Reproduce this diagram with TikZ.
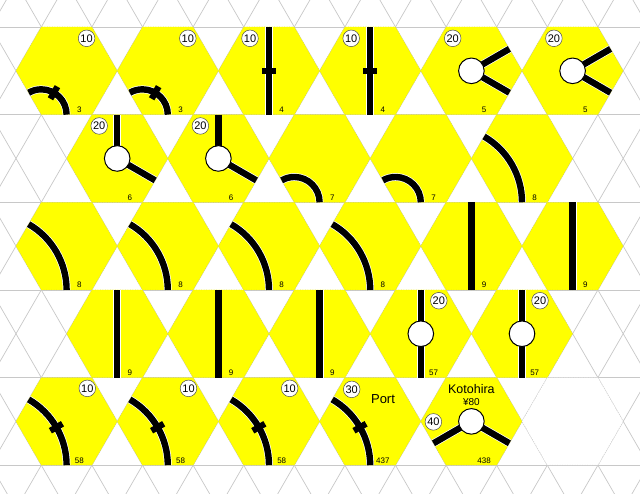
\documentclass[tikz,border=0pt]{standalone}
\usepackage{fontspec}
\setmainfont{Liberation Sans}
\definecolor{tileyellow}{RGB}{255,255,0}
\definecolor{hexedge}{RGB}{215,215,60}
\definecolor{gridgrey}{RGB}{200,200,200}
\tikzset{
 gridl/.style={draw=gridgrey, line width=0.7pt},
 hexfill/.style={fill=tileyellow, draw=hexedge, dotted, line width=0.5pt},
 emptyhex/.style={fill=white, draw=black!22, dotted, line width=0.5pt},
 track/.style={draw=black, line width=6.4pt, preaction={draw=white, line width=7.8pt}},
 barline/.style={draw=black, line width=6.2pt},
 citycirc/.style={fill=white, draw=black, line width=1pt},
 revc/.style={circle, fill=white, draw=black!70, line width=0.5pt, inner sep=0pt, minimum size=16.6pt, font=\fontsize{11}{11}\selectfont},
 tilenumber/.style={inner sep=0pt, font=\fontsize{8}{8}\selectfont},
 bigtext/.style={inner sep=0pt, font=\fontsize{13}{13}\selectfont},
 pics/yhex/.style={code={\path[hexfill] (0:50.6)--(60:50.6)--(120:50.6)--(180:50.6)--(240:50.6)--(300:50.6)--cycle; \node[tilenumber] (-num) at (12.7,-39) {#1};}},
 pics/sharp/.style={code={\draw[track] (0,-43.82) arc[start angle=0,end angle=120,radius=25.3];}},
 pics/gentle/.style={code={\draw[track] (0,-43.82) arc[start angle=0,end angle=60,radius=75.9];}},
 pics/straight/.style={code={\draw[track] (0,-43.82) -- (0,43.82);}},
 pics/spoke/.style={code={\draw[track] (0,0) -- (#1:43.82);}},
 pics/city/.style={code={\draw[citycirc] (0,0) circle[radius=12.8];}},
 pics/sharpbar/.style={code={\draw[barline] (-16.15,-27.97) -- (-9.15,-15.85);}},
 pics/gentlebar/.style={code={\draw[barline] (-16.23,-9.37) -- (-4.11,-2.37);}},
 pics/vbar/.style={code={\draw[barline] (-7,0) -- (7,0);}},
}
\begin{document}
\begin{tikzpicture}[x=1pt,y=1pt]
\useasboundingbox (0,0) rectangle (640,-494);
\fill[white] (0,0) rectangle (640,-494);
% background grid
\begin{scope}
\clip (0,0) rectangle (640,-494);
\foreach \yy in {27,114.64,202.28,289.92,377.56,465.2} {\draw[gridl] (-5,-\yy) -- (645,-\yy);}
\foreach \k in {-6,...,18} {
 \draw[gridl] ({16+50.6*\k+300},{-70.82-519.6}) -- ({16+50.6*\k-300},{-70.82+519.6});
 \draw[gridl] ({16+50.6*\k-300},{-70.82-519.6}) -- ({16+50.6*\k+300},{-70.82+519.6});
}
\end{scope}
% ---------- row 1 ----------
\foreach \xx/\nm in {66.6/a,167.8/b} {
\begin{scope}[shift={(\xx,-70.82)}]
\pic (t3\nm) {yhex=3}; \pic {sharp}; \pic {sharpbar};
\node[revc] (t3\nm r) at (20,32.5) {10};
\end{scope}}
\foreach \xx/\nm in {269/a,370.2/b} {
\begin{scope}[shift={(\xx,-70.82)}]
\pic (t4\nm) {yhex=4}; \pic {straight}; \pic {vbar};
\node[revc] (t4\nm r) at (-19,32.5) {10};
\end{scope}}
\foreach \xx/\nm in {471.4/a,572.6/b} {
\begin{scope}[shift={(\xx,-70.82)}]
\pic (t5\nm) {yhex=5}; \pic {spoke=30}; \pic {spoke=-30}; \pic {city};
\node[revc] (t5\nm r) at (-18.7,32.5) {20};
\end{scope}}
% ---------- row 2 ----------
\foreach \xx/\nm in {117.2/a,218.4/b} {
\begin{scope}[shift={(\xx,-158.46)}]
\pic (t6\nm) {yhex=6}; \pic {spoke=90}; \pic {spoke=-30}; \pic {city};
\node[revc] (t6\nm r) at (-18,32.5) {20};
\end{scope}}
\foreach \xx/\nm in {319.6/a,420.8/b} {
\begin{scope}[shift={(\xx,-158.46)}]
\pic (t7\nm) {yhex=7}; \pic {sharp};
\end{scope}}
\begin{scope}[shift={(522,-158.46)}]
\pic (t8a) {yhex=8}; \pic {gentle};
\end{scope}
% ---------- row 3 ----------
\foreach \xx/\nm in {66.6/b,167.8/c,269/d,370.2/e} {
\begin{scope}[shift={(\xx,-246.1)}]
\pic (t8\nm) {yhex=8}; \pic {gentle};
\end{scope}}
\foreach \xx/\nm in {471.4/a,572.6/b} {
\begin{scope}[shift={(\xx,-246.1)}]
\pic (t9\nm) {yhex=9}; \pic {straight};
\end{scope}}
% ---------- row 4 ----------
\foreach \xx/\nm in {117.2/c,218.4/d,319.6/e} {
\begin{scope}[shift={(\xx,-333.74)}]
\pic (t9\nm) {yhex=9}; \pic {straight};
\end{scope}}
\foreach \xx/\nm in {420.8/a,522/b} {
\begin{scope}[shift={(\xx,-333.74)}]
\pic (t57\nm) {yhex=57}; \pic {straight}; \pic {city};
\node[revc] (t57\nm r) at (18,33) {20};
\end{scope}}
% ---------- row 5 ----------
\foreach \xx/\nm in {66.6/a,167.8/b,269/c} {
\begin{scope}[shift={(\xx,-421.38)}]
\pic (t58\nm) {yhex=58}; \pic {gentle}; \pic {gentlebar};
\node[revc] (t58\nm r) at (20.7,33) {10};
\end{scope}}
\begin{scope}[shift={(370.2,-421.38)}]
\pic (t437) {yhex=437}; \pic {gentle}; \pic {gentlebar};
\node[revc] (t437r) at (-18.5,32) {30};
\node[bigtext] (port) at (12.8,22.2) {Port};
\end{scope}
\begin{scope}[shift={(471.4,-421.38)}]
\pic (t438) {yhex=438}; \pic {spoke=210}; \pic {spoke=-30}; \pic {city};
\node[revc] (t438r) at (-38,-0.5) {40};
\node[inner sep=0pt, font=\fontsize{12.5}{12.5}\selectfont] (koto) at (0,32.5) {Kotohira};
\node[inner sep=0pt, font=\fontsize{10}{10}\selectfont] (yen) at (0,19.2) {¥80};
\end{scope}
\begin{scope}[shift={(572.6,-421.38)}]
\path[emptyhex] (0:50.6)--(60:50.6)--(120:50.6)--(180:50.6)--(240:50.6)--(300:50.6)--cycle;
\end{scope}
\end{tikzpicture}
\end{document}
